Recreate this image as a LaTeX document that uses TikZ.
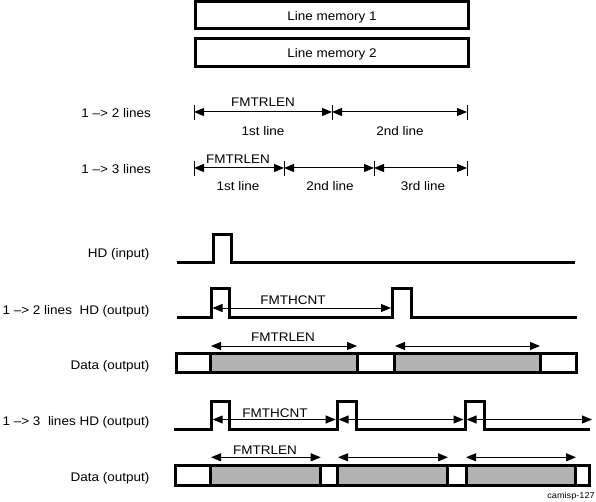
\documentclass[tikz,border=0pt]{standalone}
\usepackage{fontspec}
\setmainfont{Liberation Sans}[FakeStretch=1.08]
\usetikzlibrary{arrows.meta}
\begin{document}
\begin{tikzpicture}[x=1pt,y=-1pt,
  lbl/.style={font=\fontsize{12.5}{14}\selectfont, inner sep=0pt, anchor=base},
  lble/.style={lbl, anchor=base east},
  wave/.style={line width=3pt, line join=miter},
  dim/.style={line width=1pt, {Triangle[length=10pt,width=8pt]}-{Triangle[length=10pt,width=8pt]}},
  tickmark/.style={line width=1pt},
  membox/.style={draw, line width=3pt},
  thick3/.style={line width=3pt},
  greyfill/.style={fill=black!30}
]
\useasboundingbox (0,0) rectangle (596,502);

% line memories
\draw[membox] (195.5,1.5) rectangle (468,29);
\node[lbl] (m1) at (332,21) {Line memory 1};
\draw[membox] (195.5,39) rectangle (468,66.5);
\node[lbl] (m2) at (332,58) {Line memory 2};

% 1 -> 2 lines
\node[lble] (l12) at (151,117.5) {1 –> 2 lines};
\foreach \x in {194,332,467} \draw[tickmark] (\x,105) -- (\x,120);
\draw[dim] (194,112) -- (332,112);
\draw[dim] (332,112) -- (467,112);
\node[lbl] (f1) at (263,106.5) {FMTRLEN};
\node[lbl] (a1) at (263,136) {1st line};
\node[lbl] (a2) at (400,136) {2nd line};

% 1 -> 3 lines
\node[lble] (l13) at (151,174) {1 –> 3 lines};
\foreach \x in {194,284,374,467} \draw[tickmark] (\x,161) -- (\x,176);
\draw[dim] (194,168) -- (284,168);
\draw[dim] (284,168) -- (374,168);
\draw[dim] (374,168) -- (467,168);
\node[lbl] (f2) at (238,164) {FMTRLEN};
\node[lbl] (b1) at (238,190.7) {1st line};
\node[lbl] (b2) at (330,190.7) {2nd line};
\node[lbl] (b3) at (423,190.7) {3rd line};

% HD input
\node[lble] (hdi) at (149.5,257.3) {HD (input)};
\draw[wave] (177,263) -- (213,263) -- (213,234.5) -- (231,234.5) -- (231,263) -- (575,263);

% 1->2 HD output
\node[lble] (hd2) at (149.5,314) {1 –> 2 lines\ \ HD (output)};
\draw[wave] (177,317.5) -- (211,317.5) -- (211,288) -- (229,288) -- (229,317.5) -- (392.5,317.5) -- (392.5,288) -- (411,288) -- (411,317.5) -- (577,317.5);
\draw[dim] (212.5,308) -- (391,308);
\node[lbl] (fc1) at (293,304) {FMTHCNT};

% Data output (2 lines)
\node[lble] (d2) at (149.5,369.5) {Data (output)};
\fill[white] (176.5,353.3) rectangle (576.7,372);
\fill[greyfill] (210.5,353.3) rectangle (357,372);
\fill[greyfill] (394,353.3) rectangle (540.5,372);
\foreach \x in {210.5,357,394,540.5} \draw[thick3] (\x,353.3) -- (\x,372);
\draw[thick3] (176.5,353.3) rectangle (576.7,372);
\draw[dim] (211,346) -- (357,346);
\draw[dim] (395,346) -- (540,346);
\node[lbl] (fr1) at (283,341.7) {FMTRLEN};

% 1->3 HD output
\node[lble] (hd3) at (149.5,425.7) {1 –> 3\ \ lines HD (output)};
\draw[wave] (174,429.5) -- (211,429.5) -- (211,401) -- (229,401) -- (229,429.5) -- (337.3,429.5) -- (337.3,401) -- (356.7,401) -- (356.7,429.5) -- (465,429.5) -- (465,401) -- (484,401) -- (484,429.5) -- (590,429.5);
\draw[dim] (212.7,419.5) -- (335.7,419.5);
\draw[dim] (338.5,419.5) -- (463.5,419.5);
\draw[dim] (466.5,419.5) -- (592,419.5);
\node[lbl] (fc2) at (275,417) {FMTHCNT};

% Data output (3 lines)
\node[lble] (d3) at (149.5,481) {Data (output)};
\fill[white] (175.3,465.7) rectangle (589,485);
\fill[greyfill] (210.7,465.7) rectangle (320.7,485);
\fill[greyfill] (337.3,465.7) rectangle (447.7,485);
\fill[greyfill] (466,465.7) rectangle (575.7,485);
\foreach \x in {210.7,320.7,337.3,447.7,466,575.7} \draw[thick3] (\x,465.7) -- (\x,485);
\draw[thick3] (175.3,465.7) rectangle (589,485);
\draw[dim] (211,457.3) -- (320.7,457.3);
\draw[dim] (338,457.3) -- (448,457.3);
\draw[dim] (466,457.3) -- (576,457.3);
\node[lbl] (fr2) at (265,454) {FMTRLEN};

\node[font=\fontsize{8.5}{10}\selectfont, inner sep=0pt, anchor=base east] (cap) at (595,498) {camisp-127};
\end{tikzpicture}
\end{document}
